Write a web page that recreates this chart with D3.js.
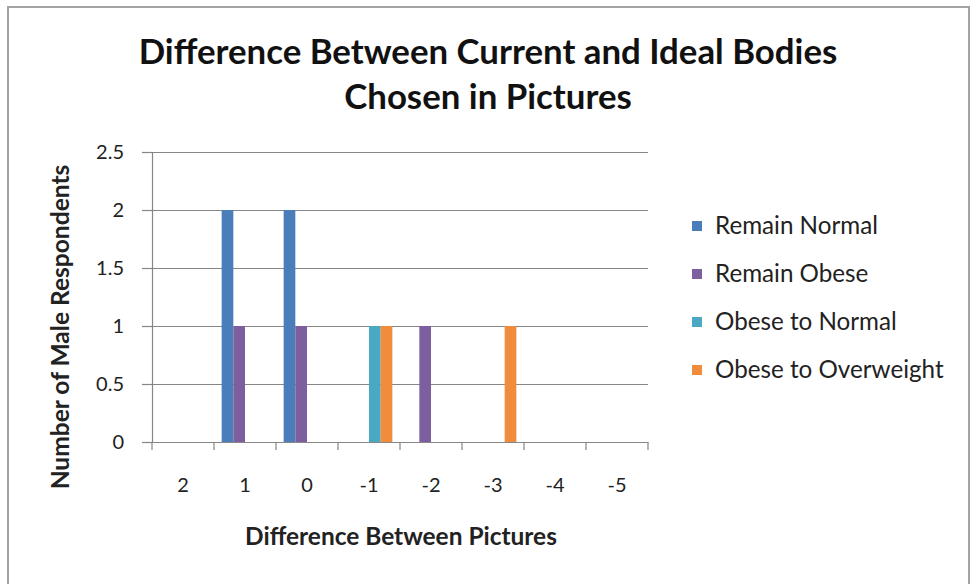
<!DOCTYPE html>
<html><head><meta charset="utf-8">
<script src="https://cdn.jsdelivr.net/npm/d3@7"></script>
<style>html,body{margin:0;padding:0;background:#fff;overflow:hidden}svg{display:block}</style>
</head><body>
<svg id="c" width="970" height="584"></svg>
<script>
const categories = ["2","1","0","-1","-2","-3","-4","-5"];
const seriesNames = ["Remain Normal","Remain Obese","Obese to Normal","Obese to Overweight"];
const remainNormal = [0,2,2,0,0,0,0,0];
const remainObese = [0,1,1,0,1,0,0,0];
const obeseToNormal = [0,0,0,1,0,0,0,0];
const obeseToOverweight = [0,0,0,1,0,1,0,0];
const yTicks = [0,0.5,1,1.5,2,2.5];
const colors = ["#4A7EBB","#7D5FA0","#4BA8C3","#F08C3C"];
const titleLines = ["Difference Between Current and Ideal Bodies","Chosen in Pictures"];
const xTitle = "Difference Between Pictures";
const yTitle = "Number of Male Respondents";

const seriesValues = [remainNormal, remainObese, obeseToNormal, obeseToOverweight];
const FONT = "Lato, 'Noto Sans', sans-serif";
const svg = d3.select("#c");

// chart border
svg.append("rect").attr("x",8).attr("y",7).attr("width",961).attr("height",590)
  .attr("fill","#fff").attr("stroke","#a3a3a3").attr("stroke-width",2);

const m = {left:152, right:648, top:152, bottom:442};
const x = d3.scaleBand().domain(categories).range([m.left, m.right]).paddingInner(0.247).paddingOuter(0.1235);
const xs = d3.scaleBand().domain(d3.range(seriesNames.length)).range([0, x.bandwidth()]);
const xc = d3.scaleBand().domain(categories).range([m.left, m.right]);
const y = d3.scaleLinear().domain([0,2.5]).range([m.bottom, m.top]);

function fit(sel, target){
  const w = sel.node().getComputedTextLength();
  const fs = parseFloat(sel.attr("font-size"));
  sel.attr("font-size", fs*target/w);
}

// gridlines
svg.append("g").selectAll("line").data(yTicks.filter(d=>d>0)).join("line")
  .attr("x1", m.left).attr("x2", m.right)
  .attr("y1", d=>y(d)+0.5).attr("y2", d=>y(d)+0.5)
  .attr("stroke","#868686").attr("stroke-width",1.2);

// bars
const g = svg.append("g");
seriesValues.forEach((vals, si) => {
  g.append("g").selectAll("rect").data(vals.map((v,i)=>({c:categories[i], v}))).join("rect")
    .attr("x", d => x(d.c) + xs(si))
    .attr("width", xs.bandwidth())
    .attr("y", d => y(d.v))
    .attr("height", d => y(0) - y(d.v))
    .attr("fill", colors[si]);
});

// y axis
const ya = svg.append("g").attr("transform",`translate(${m.left},0)`)
  .call(d3.axisLeft(y).tickValues(yTicks).tickSize(10).tickPadding(18).tickFormat(d3.format("~g")));
ya.select(".domain").attr("stroke","#868686").attr("stroke-width",1.2);
ya.selectAll(".tick line").attr("stroke","#868686").attr("stroke-width",1.2);
ya.selectAll("text").attr("font-family",FONT).attr("font-size",20).attr("fill","#222").attr("dy","0.32em");

// x axis
const xa = svg.append("g").attr("transform",`translate(0,${m.bottom})`)
  .call(d3.axisBottom(xc).tickSize(0).tickPadding(36));
xa.select(".domain").attr("stroke","#868686").attr("stroke-width",1.2);
xa.selectAll("text").attr("font-family",FONT).attr("font-size",20).attr("fill","#222");
// x tick marks at category boundaries
svg.append("g").selectAll("line").data(categories.concat(["end"])).join("line")
  .attr("x1", (d,i)=> i < categories.length ? xc(d) : m.right)
  .attr("x2", (d,i)=> i < categories.length ? xc(d) : m.right)
  .attr("y1", m.bottom).attr("y2", m.bottom+8)
  .attr("stroke","#868686").attr("stroke-width",1.2);

// title
const t1 = svg.append("text").attr("x",488).attr("y",64).attr("text-anchor","middle")
  .attr("font-family",FONT).attr("font-weight","bold").attr("font-size",30).attr("fill","#111").text(titleLines[0]);
fit(t1, 699);
const t2 = svg.append("text").attr("x",488).attr("y",109).attr("text-anchor","middle")
  .attr("font-family",FONT).attr("font-weight","bold").attr("font-size",t1.attr("font-size")).attr("fill","#111").text(titleLines[1]);

// axis titles
const xt = svg.append("text").attr("x",401).attr("y",545).attr("text-anchor","middle")
  .attr("font-family",FONT).attr("font-weight","bold").attr("font-size",20).attr("fill","#222").text(xTitle);
fit(xt, 312);
const yt = svg.append("text").attr("transform","translate(69,327) rotate(-90)").attr("text-anchor","middle")
  .attr("font-family",FONT).attr("font-weight","bold").attr("font-size",20).attr("fill","#222").text(yTitle);
fit(yt, 325);

// legend
const lg = svg.append("g");
const items = lg.selectAll("g").data(seriesNames).join("g")
  .attr("transform",(d,i)=>`translate(692,${226 + i*48})`);
items.append("rect").attr("x",0).attr("y",-5).attr("width",10).attr("height",10).attr("fill",(d,i)=>colors[i]);
const lt = items.append("text").attr("x",23).attr("y",0).attr("dy","0.35em")
  .attr("font-family",FONT).attr("font-size",21).attr("fill","#222").text(d=>d);
const w0 = lt.nodes()[0].getComputedTextLength();
lt.attr("font-size", 21*163/w0);
</script>
</body></html>
